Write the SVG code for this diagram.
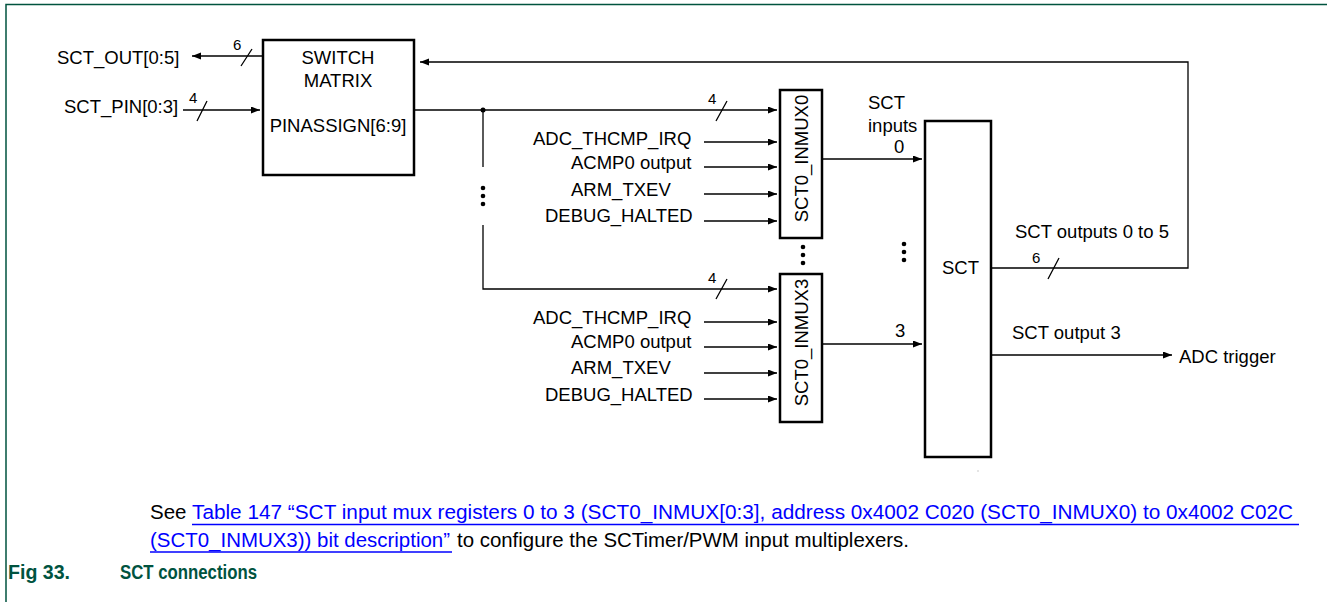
<svg xmlns="http://www.w3.org/2000/svg" width="1327" height="602" viewBox="0 0 1327 602">
<style>
.t{font-family:"Liberation Sans",Arial,sans-serif;font-size:18.5px;fill:#000}
.s{font-family:"Liberation Sans",Arial,sans-serif;font-size:15px;fill:#000}
.f{font-family:"Liberation Sans",Arial,sans-serif;font-size:20.5px}
.h{font-family:"Liberation Sans",Arial,sans-serif;font-size:20px;font-weight:bold;fill:#00533f}
.box{fill:#fff;stroke:#000;stroke-width:2.5}
.w{fill:none;stroke:#000;stroke-width:1.3}
.a{fill:none;stroke:#000;stroke-width:1.3;marker-end:url(#ah)}
.dot{fill:#000}
</style>
<defs>
<marker id="ah" markerUnits="userSpaceOnUse" markerWidth="10" markerHeight="8" refX="9" refY="3.5" orient="auto">
<path d="M0,0 L9,3.5 L0,7 z" fill="#000"/>
</marker>
</defs>
<rect width="1327" height="602" fill="#fff"/>
<path d="M6,602 V4.5 H1327" fill="none" stroke="#00533f" stroke-width="1.5"/>

<g id="connectors">
<path class="a" d="M262,56 H192"/>
<path class="a" d="M183,110 H260"/>
<path class="a" d="M414,110 H777"/>
<path class="w" d="M483,110 V167"/>
<path class="a" d="M483,225 V289 H777"/>
<path class="a" d="M704,142 H777"/>
<path class="a" d="M704,167 H777"/>
<path class="a" d="M704,194 H777"/>
<path class="a" d="M704,221 H777"/>
<path class="a" d="M704,322 H777"/>
<path class="a" d="M704,347 H777"/>
<path class="a" d="M704,373 H777"/>
<path class="a" d="M704,399 H777"/>
<path class="a" d="M822,159 H922"/>
<path class="a" d="M822,344 H922"/>
<path class="a" d="M991,268 H1188 V62 H420"/>
<path class="a" d="M991,355 H1172"/>
<path class="w" d="M241,66 L252,49 M197,121 L207,101 M716,121 L727,101 M716,299 L727,279 M1048,279 L1059,258"/>
<circle class="dot" cx="483" cy="110" r="2.5"/>
<circle class="dot" cx="483" cy="188" r="2.3"/>
<circle class="dot" cx="483" cy="196" r="2.3"/>
<circle class="dot" cx="483" cy="204" r="2.3"/>
<circle class="dot" cx="803" cy="247" r="2.3"/>
<circle class="dot" cx="803" cy="255" r="2.3"/>
<circle class="dot" cx="803" cy="263" r="2.3"/>
<circle class="dot" cx="904" cy="244" r="2.3"/>
<circle class="dot" cx="904" cy="252" r="2.3"/>
<circle class="dot" cx="904" cy="260" r="2.3"/>
<text class="s" x="233" y="50">6</text>
<text class="s" x="189" y="103">4</text>
<text class="s" x="708" y="104">4</text>
<text class="s" x="708" y="283">4</text>
<text class="s" x="1032" y="263">6</text>
</g>

<g id="sct_out"><text class="t" x="57" y="64">SCT_OUT[0:5]</text></g>
<g id="sct_pin"><text class="t" x="64" y="112.5">SCT_PIN[0:3]</text></g>

<g id="switch_matrix">
<rect class="box" x="263" y="40" width="151" height="135"/>
<text class="t" x="338" y="64" text-anchor="middle">SWITCH</text>
<text class="t" x="338" y="87" text-anchor="middle">MATRIX</text>
<text class="t" x="338" y="132" text-anchor="middle">PINASSIGN[6:9]</text>
</g>

<g id="inputs0">
<text class="t" x="533" y="145">ADC_THCMP_IRQ</text>
<text class="t" x="571" y="169">ACMP0 output</text>
<text class="t" x="571" y="196">ARM_TXEV</text>
<text class="t" x="545" y="222">DEBUG_HALTED</text>
</g>

<g id="inputs3">
<text class="t" x="533" y="324">ADC_THCMP_IRQ</text>
<text class="t" x="571" y="348">ACMP0 output</text>
<text class="t" x="571" y="374">ARM_TXEV</text>
<text class="t" x="545" y="401">DEBUG_HALTED</text>
</g>

<g id="inmux0">
<rect class="box" x="780" y="90" width="42" height="148"/>
<text class="t" transform="translate(808,158.5) rotate(-90)" text-anchor="middle">SCT0_INMUX0</text>
</g>

<g id="inmux3">
<rect class="box" x="780" y="274" width="42" height="148"/>
<text class="t" transform="translate(808,342.5) rotate(-90)" text-anchor="middle">SCT0_INMUX3</text>
</g>

<g id="sct_inputs_label">
<text class="t" x="868" y="109">SCT</text>
<text class="t" x="868" y="132">inputs</text>
<text class="t" x="894" y="153">0</text>
<text class="t" x="895" y="337">3</text>
</g>

<g id="sct">
<rect class="box" x="925" y="121" width="66" height="336"/>
<text class="t" x="942" y="274">SCT</text>
</g>

<g id="sct_outputs_label"><text class="t" x="1015" y="238">SCT outputs 0 to 5</text></g>
<g id="sct_output3_label"><text class="t" x="1012" y="339">SCT output 3</text></g>
<g id="adc_trigger"><text class="t" x="1179" y="363">ADC trigger</text></g>
<rect x="977.5" y="470.5" width="1" height="1" fill="#999"/>

<g id="footer">
<text class="f" x="150" y="519" fill="#000">See</text>
<text class="f" x="192" y="519" fill="#0000ff" textLength="1101" lengthAdjust="spacingAndGlyphs">Table 147 “SCT input mux registers 0 to 3 (SCT0_INMUX[0:3], address 0x4002 C020 (SCT0_INMUX0) to 0x4002 C02C</text>
<line x1="192" y1="524.5" x2="1299" y2="524.5" stroke="#0000ff" stroke-width="1.6"/>
<text class="f" x="150" y="547" fill="#0000ff" textLength="300" lengthAdjust="spacingAndGlyphs">(SCT0_INMUX3)) bit description”</text>
<line x1="150" y1="552" x2="452" y2="552" stroke="#0000ff" stroke-width="1.6"/>
<text class="f" x="457" y="547" fill="#000" textLength="452" lengthAdjust="spacingAndGlyphs">to configure the SCTimer/PWM input multiplexers.</text>
<text class="h" x="8" y="579" textLength="62" lengthAdjust="spacingAndGlyphs">Fig 33.</text>
<text class="h" x="120" y="579" textLength="137" lengthAdjust="spacingAndGlyphs">SCT connections</text>
</g>
</svg>
